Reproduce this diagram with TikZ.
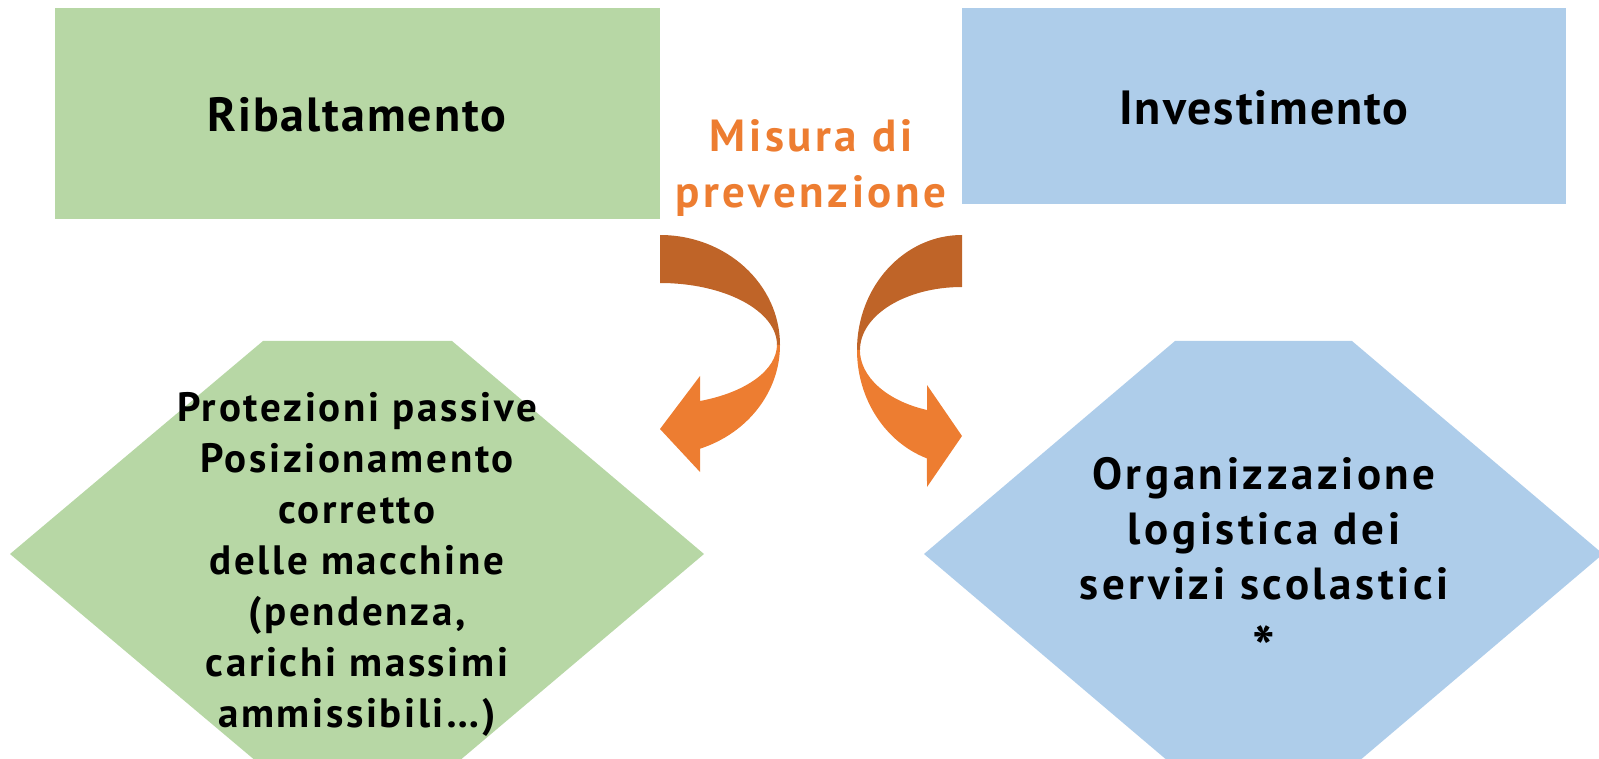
\documentclass[tikz,border=0pt]{standalone}
\usepackage{fontspec}
\setmainfont{PT Sans}
\definecolor{RiskGreen}{HTML}{B7D7A5}
\definecolor{RiskBlue}{HTML}{AECDEA}
\definecolor{TurnLight}{HTML}{ED7D31}
\definecolor{TurnDark}{HTML}{BF6428}
\usepackage{tikz}

\begin{document}
\begin{tikzpicture}[
  x=1pt,y=-1pt,
  riskbox/.style={inner sep=0pt,font=\fontsize{48}{52}\selectfont\bfseries\addfontfeatures{LetterSpace=4}},
  hextext/.style={align=center,inner sep=0pt,font=\fontsize{41}{51}\selectfont\bfseries\addfontfeatures{LetterSpace=6.5}},
  orgtext/.style={align=center,inner sep=0pt,font=\fontsize{45}{55}\selectfont\bfseries\addfontfeatures{LetterSpace=8}},
  midtext/.style={align=center,inner sep=0pt,text=TurnLight,font=\fontsize{45}{56}\selectfont\bfseries\addfontfeatures{LetterSpace=8}}
]
\useasboundingbox (0,0) rectangle (1599,759);
\clip (0,0) rectangle (1599,759);
% top boxes
\fill[RiskGreen] (55,8) rectangle (660,219);
\fill[RiskBlue] (962,8) rectangle (1566,204);
\node[riskbox] (rib) at (357,115) {Ribaltamento};
\node[riskbox] (inv) at (1264,108) {Investimento};
% hexagons
\fill[RiskGreen] (263,341) -- (452,341) -- (704,554) -- (452,767) -- (263,767) -- (10,554) -- cycle;
\fill[RiskBlue] (1175,341) -- (1352,341) -- (1603,554) -- (1352,767) -- (1175,767) -- (924,554) -- cycle;
\node[hextext] (prot) at (357,564) {Protezioni passive\\Posizionamento\\corretto\\delle macchine\\(pendenza,\\carichi massimi\\ammissibili…)};
\node[orgtext] (org) at (1264,556) {Organizzazione\\logistica dei\\servizi scolastici\\{\fontsize{60}{55}\selectfont\smash{\raisebox{-15pt}{*}}}};
\node[midtext] (misura) at (811,168) {Misura di\\prevenzione};
% left turn arrow
\fill[TurnDark] (660,235) arc[start angle=-90,end angle=0,x radius=120,y radius=110]
  -- (777,345) arc[start angle=0,end angle=-90,x radius=117,y radius=62] -- cycle;
\fill[TurnLight] (780,345) arc[start angle=0,end angle=70.5,x radius=120,y radius=110]
  -- (700,472) -- (660,429) -- (700,376) -- (700,401)
  arc[start angle=70,end angle=0,x radius=117,y radius=60] -- cycle;
% right turn arrow
\fill[TurnDark] (962,235) arc[start angle=-90,end angle=-180,x radius=105,y radius=115]
  -- (860,350) arc[start angle=-180,end angle=-90,x radius=102,y radius=63] -- cycle;
\fill[TurnLight] (857,350) arc[start angle=180,end angle=109.5,x radius=105,y radius=115]
  -- (927,487) -- (962,436) -- (927,385) -- (927,410)
  arc[start angle=110,end angle=180,x radius=102,y radius=64] -- cycle;
\end{tikzpicture}
\end{document}
